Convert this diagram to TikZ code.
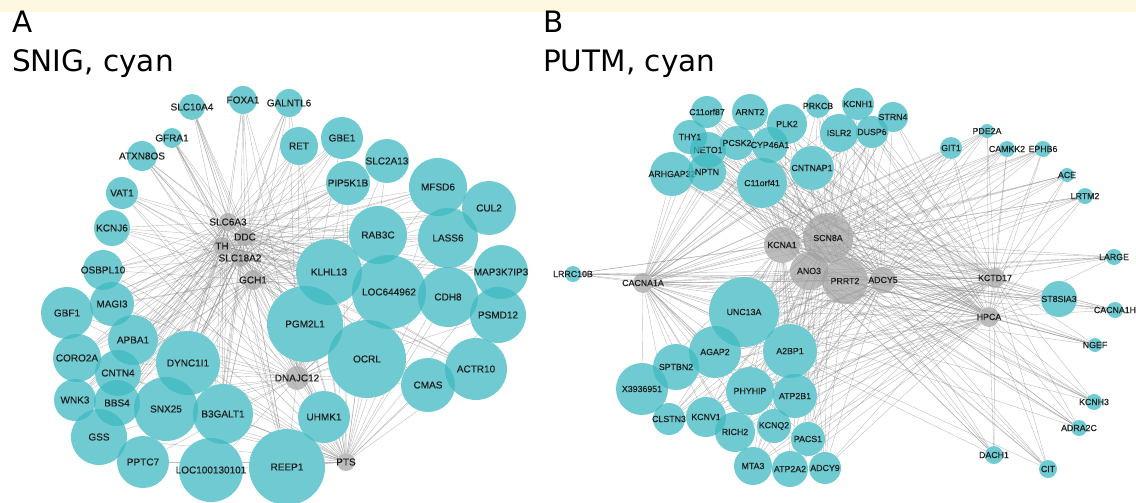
\documentclass[tikz,border=0pt]{standalone}
\usepackage{fontspec}
\newfontfamily\labelfont[FakeBold=0.3]{Liberation Sans}
\newfontfamily\titlefont{DejaVu Sans}
\usetikzlibrary{backgrounds}
\definecolor{genecyan}{RGB}{63,186,194}
\definecolor{hubgray}{RGB}{160,160,160}
\definecolor{linkgray}{RGB}{135,135,135}
\definecolor{labelblack}{RGB}{30,30,30}
\definecolor{bandyellow}{RGB}{255,248,225}
\pgfdeclarelayer{edges}
\pgfdeclarelayer{under}
\pgfsetlayers{edges,under,main}

% panel A: name/x/y/radius
\def\genesA{SLC10A4/192/107/13, FOXA1/243/100/14, GALNTL6/289/103/14, GFRA1/172/138/10,
  ATXN8OS/142/156/15, VAT1/122/193/16, KCNJ6/112/228/18, RET/299/146/19, GBE1/342/138/21,
  SLC2A13/387/161/22, PIP5K1B/348/183/22, MFSD6/438/187/29, CUL2/489/208/27, RAB3C/378/235/29,
  LASS6/448/238/30, KLHL13/329/272/33, LOC644962/389/292/37, CDH8/448/297/30,
  MAP3K7IP3/501/272/27, PSMD12/498/315/28, PGM2L1/305/324/38, OCRL/367/359/39,
  CMAS/428/385/27, ACTR10/476/369/31, UHMK1/324/417/26, REEP1/287/467/38,
  OSBPL10/103/270/20, GBF1/67/313/26, MAGI3/112/304/22, APBA1/133/340/25, CORO2A/77/358/24,
  CNTN4/118/373/23, DYNC1I1/188/363/32, WNK3/75/400/21, BBS4/117/403/23, SNX25/166/409/32,
  B3GALT1/223/414/30, GSS/99/437/28, PPTC7/143/462/26, LOC100130101/211/470/32}
\def\hubsA{SLC6A3/228/222/9, DDC/245/237/9, TH/222/246/9, SLC18A2/240/258/9,
  GCH1/253/280/10, DNAJC12/297/378/12, PTS/346/462/9}

% panel B: name/x/y/radius
\def\genesB{C11orf87/707/112/16, ARNT2/750/112/18, PLK2/787/124/20, PRKCB/818/106/12,
  NETO1/708/150/18, THY1/690/137/17, PCSK2/737/143/17, CYP46A1/770/145/18,
  ARHGAP32/672/174/22, NPTN/707/172/19, C11orf41/762/183/25, CNTNAP1/812/168/22,
  KCNH1/858/104/16, ISLR2/839/133/19, DUSP6/872/132/16, STRN4/893/117/15, GIT1/951/148/11,
  PDE2A/987/131/7, CAMKK2/1007/149/8, EPHB6/1043/149/8, ACE/1067/175/7, LRTM2/1085/196/8,
  LARGE/1114/257/8, ST8SIA3/1059/299/18, CACNA1H/1115/310/8, NGEF/1095/345/7,
  KCNH3/1094/402/8, ADRA2C/1079/428/8, DACH1/994/455/9, CIT/1048/469/9, LRRC10B/573/274/8,
  UNC13A/744/312/35, AGAP2/715/352/26, A2BP1/790/351/27, SPTBN2/676/367/23,
  X3936951/642/389/26, PHYHIP/750/391/24, ATP2B1/795/396/22, CLSTN3/669/419/16,
  KCNV1/706/417/20, RICH2/735/432/20, KCNQ2/774/426/17, PACS1/808/439/17,
  MTA3/753/466/19, ATP2A2/790/469/18, ADCY9/825/468/16}
\def\hubsB{KCNA1/782/245/18, SCN8A/828/238/25, ANO3/809/271/19, PRRT2/845/281/23,
  ADCY5/883/280/13, CACNA1A/643/283/10, KCTD17/995/278/10, HPCA/989/317/10}

\begin{document}
\begin{tikzpicture}[x=1pt,y=-1pt,
  gene/.style={circle,fill=genecyan,fill opacity=0.75,text opacity=1,inner sep=0pt,text=labelblack,font=\labelfont\fontsize{10}{11}\selectfont},
  geneB/.style={gene,font=\labelfont\fontsize{8.8}{9}\selectfont},
  hub/.style={gene,fill=hubgray,fill opacity=0.7},
  hubB/.style={geneB,fill=hubgray,fill opacity=0.7},
  link/.style={draw=linkgray,line width=0.4pt,opacity=0.55},
  title/.style={anchor=base west,inner sep=0pt,text=black,font=\titlefont\fontsize{29.5}{34}\selectfont}]
\useasboundingbox (0,0) rectangle (1136,503);
\fill[bandyellow] (0,0) rectangle (1136,12);

\node[title] (lettA) at (12,33) {A};
\node[title] (headA) at (12,72) {SNIG, cyan};
\node[title] (lettB) at (543,33) {B};
\node[title] (headB) at (543,72) {PUTM, cyan};

% panel A
\foreach \n/\x/\y/\r in \genesA {
  \begin{pgfonlayer}{under}\fill[white] (\x,\y) circle[radius=\r pt];\end{pgfonlayer}
  \node[gene,minimum size=2*\r pt] (\n) at (\x,\y) {\makebox[0pt]{\n}};
}
\foreach \n/\x/\y/\r in \hubsA
  \node[hub,minimum size=2*\r pt] (\n) at (\x,\y) {\makebox[0pt]{\n}};

\begin{pgfonlayer}{edges}
\foreach \h/\hx/\hy/\hr in \hubsA
  \foreach \g/\x/\y/\r in \genesA
    \draw[link] (\h) -- (\g);
\end{pgfonlayer}

% panel B
\foreach \n/\x/\y/\r in \genesB {
  \begin{pgfonlayer}{under}\fill[white] (\x,\y) circle[radius=\r pt];\end{pgfonlayer}
  \node[geneB,minimum size=2*\r pt] (\n) at (\x,\y) {\makebox[0pt]{\n}};
}
\foreach \n/\x/\y/\r in \hubsB
  \node[hubB,minimum size=2*\r pt] (\n) at (\x,\y) {\makebox[0pt]{\n}};

\begin{pgfonlayer}{edges}
\foreach \h/\hx/\hy/\hr in \hubsB
  \foreach \g/\x/\y/\r in \genesB
    \draw[link] (\h) -- (\g);
\foreach \h in {KCNA1,SCN8A,ANO3,PRRT2,ADCY5}
  \foreach \k in {CACNA1A,KCTD17,HPCA}
    \draw[link] (\h) -- (\k);
\draw[link] (KCTD17) -- (HPCA);
\draw[link] (CACNA1A) -- (KCTD17);
\draw[link] (CACNA1A) -- (HPCA);
\end{pgfonlayer}
\end{tikzpicture}
\end{document}
